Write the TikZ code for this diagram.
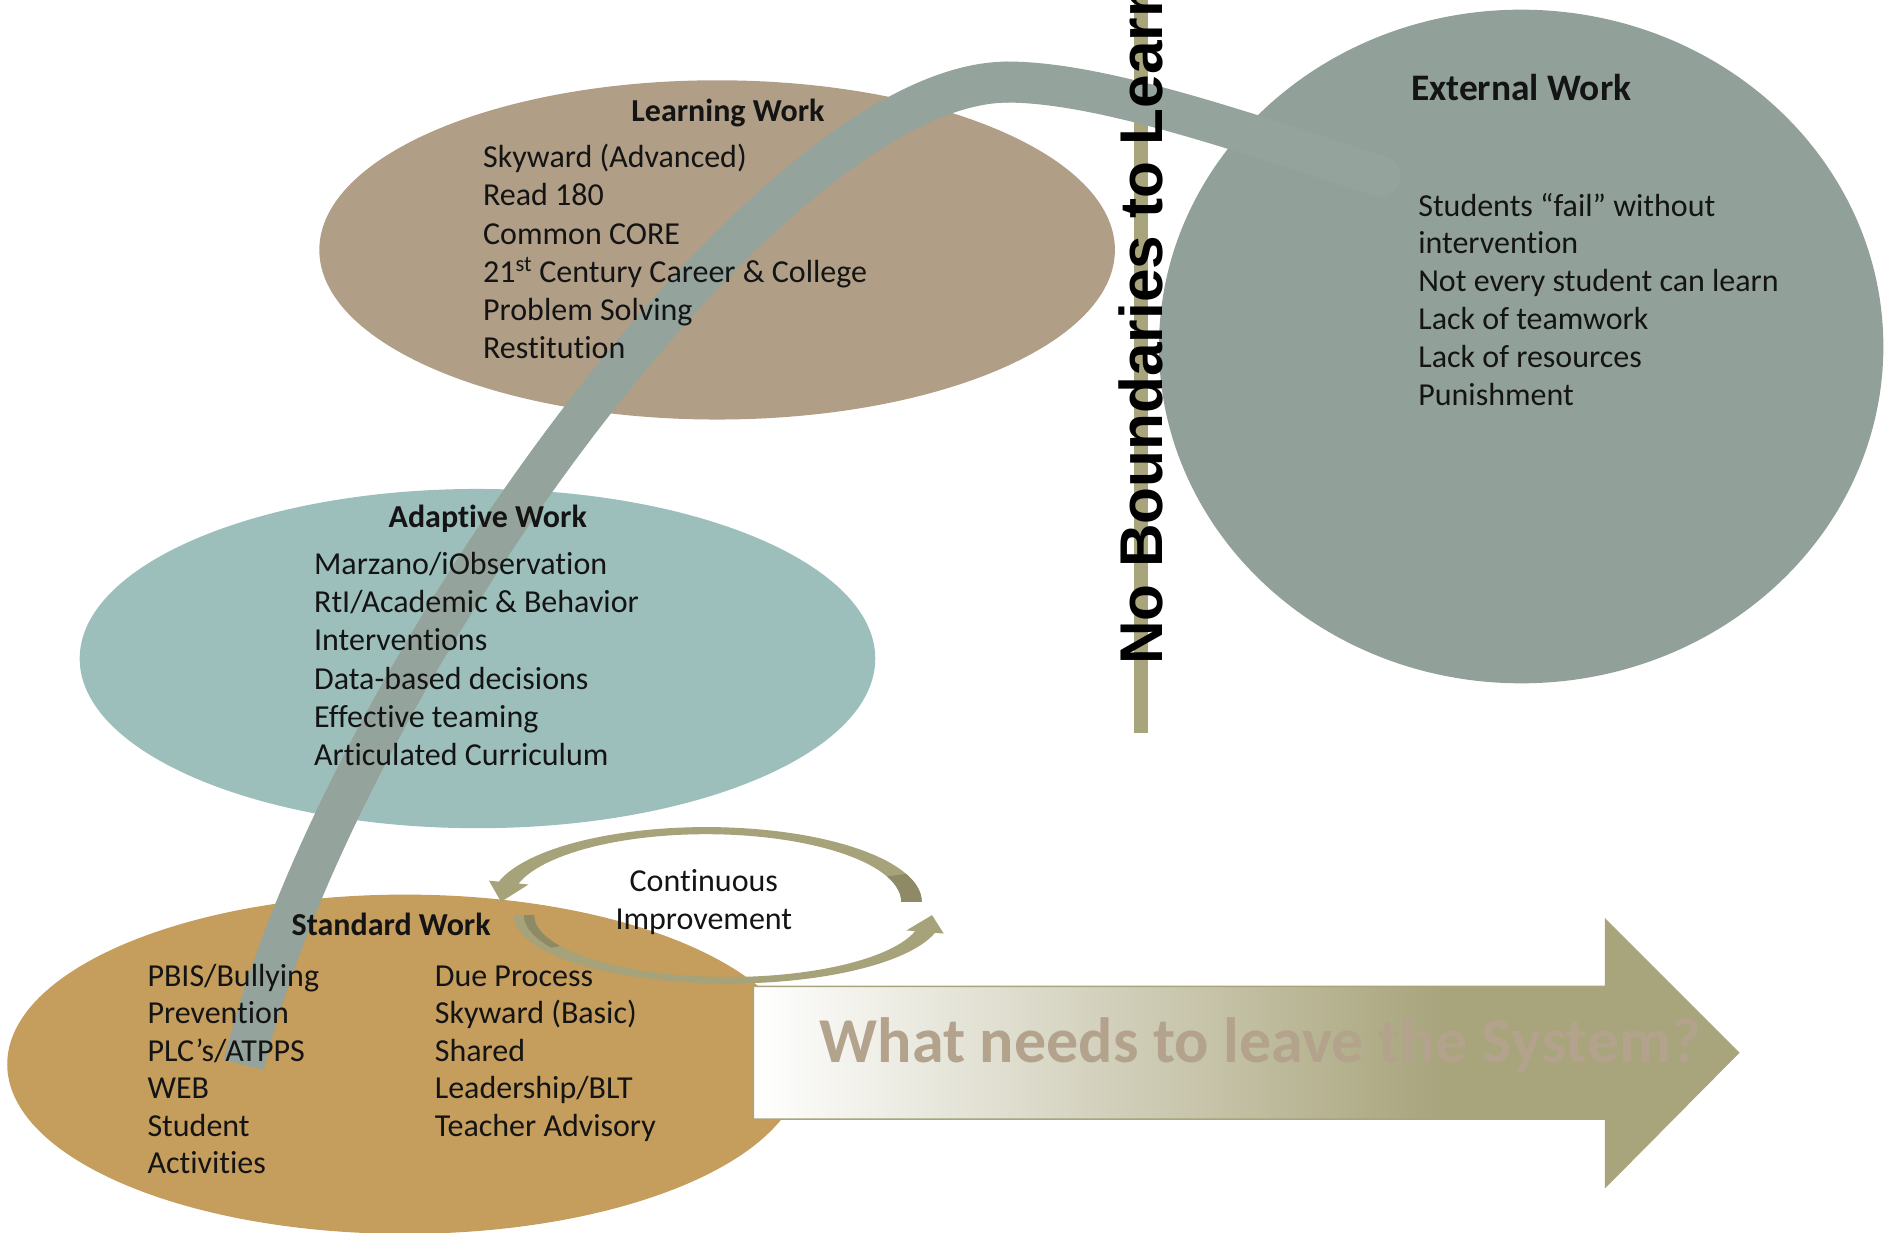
\documentclass[tikz,border=0pt]{standalone}
\usepackage{fontspec}
\setmainfont{Carlito}[Ligatures=NoCommon]
\newfontfamily\vertfont{Liberation Sans}
\usetikzlibrary{shapes.geometric}
\definecolor{learnc}{HTML}{B09E86}
\definecolor{adaptc}{HTML}{9DBFBC}
\definecolor{stdc}{HTML}{C59D5C}
\definecolor{extc}{HTML}{91A19A}
\definecolor{bandc}{HTML}{94A49D}
\definecolor{olivec}{HTML}{A8A47C}
\definecolor{ringc}{HTML}{A6A27A}
\definecolor{ringd}{HTML}{8E8A66}
\definecolor{txtc}{HTML}{141414}
\definecolor{bigtxt}{HTML}{B3A38C}
\pgfdeclarehorizontalshading{bigarrowshade}{100bp}{color(0bp)=(white); color(25bp)=(white); color(60bp)=(olivec); color(100bp)=(olivec)}
\begin{document}
\begin{tikzpicture}[x=1pt, y=-1pt,
  blob/.style={ellipse, inner sep=0pt, outer sep=0pt},
  item/.style={font=\fontsize{26.5}{31}\selectfont, text=txtc, inner sep=0pt, anchor=base west},
  ttl/.style={font=\fontsize{26.5}{31}\selectfont\bfseries, text=txtc, inner sep=0pt, anchor=base},
  band/.style={draw=bandc, line width=34pt}]
\useasboundingbox (0,0) rectangle (1568,1021);
\clip (0,0) rectangle (1568,1021);
% ellipses
\node[blob, fill=learnc, minimum width=659pt, minimum height=281pt] (learning) at (594,207) {};
\node[blob, fill=adaptc, minimum width=659pt, minimum height=281pt] (adaptive) at (395.5,545.5) {};
\node[blob, fill=stdc, minimum width=659pt, minimum height=281pt] (standard) at (335.5,881.5) {};
\node[blob, fill=extc, minimum width=600pt, minimum height=558pt] (external) at (1260,287) {};
% vertical bar
\fill[olivec] (939,0) rectangle (951,607);
% band
\coordinate (bandA) at (202,882);
\coordinate (bandB) at (835,68);
\coordinate (bandC) at (1143,146);
\draw[band] (bandA) .. controls (276,575) and (635,68) .. (bandB);
\draw[band, line cap=round] (bandB) .. controls (915,68) and (1043,114) .. (bandC);
% vertical text
\node[rotate=90, anchor=base west, inner sep=0pt, text=black, font=\vertfont\bfseries\fontsize{50}{60}\selectfont] (nbl) at (963,551) {No Boundaries to Learn};
% big arrow
\shadedraw[shading=bigarrowshade, draw=olivec, line width=1.2pt] (624,817) -- (1330,817) -- (1330,762) -- (1440,872) -- (1330,983) -- (1330,927) -- (624,927) -- cycle;
\node[font=\bfseries\fontsize{53}{60}\selectfont, text=bigtxt, anchor=base west, inner sep=0pt] (leave) at (679,880) {What needs to leave the System?};
% continuous improvement ring
\begin{scope}[shift={(585,747)}, yscale=0.347]
\fill[ringc] plot[domain=0:-164.3, samples=60] ({178.5*cos(\x)},{178.5*sin(\x)}) -- ({187*cos(-164.3)},{187*sin(-164.3)}) -- (-170,0) -- ({153*cos(-164.3)},{153*sin(-164.3)}) -- plot[domain=-164.3:0, samples=60] ({161.5*cos(\x)},{161.5*sin(\x)}) -- cycle;
\fill[ringd] plot[domain=0:-22, samples=20] ({178.5*cos(\x)},{178.5*sin(\x)}) -- plot[domain=-22:0, samples=20] ({161.5*cos(\x)},{161.5*sin(\x)}) -- cycle;
\end{scope}
\begin{scope}[shift={(603,758)}, yscale=0.3195]
\fill[ringc] plot[domain=180:15, samples=60] ({177.5*cos(\x)},{177.5*sin(\x)}) -- ({185*cos(15)},{185*sin(15)}) -- (169,0) -- ({153*cos(15)},{153*sin(15)}) -- plot[domain=15:180, samples=60] ({160.5*cos(\x)},{160.5*sin(\x)}) -- cycle;
\fill[ringd] plot[domain=180:150, samples=20] ({169*cos(\x)},{169*sin(\x)}) -- plot[domain=150:180, samples=20] ({160.5*cos(\x)},{160.5*sin(\x)}) -- cycle;
\end{scope}
\node[item, anchor=base] (ci1) at (583,738.5) {Continuous};
\node[item, anchor=base] (ci2) at (583,770) {Improvement};
% texts: learning
\node[ttl] (lwt) at (603,100.8) {Learning Work};
\foreach \t [count=\i from 0] in {Skyward (Advanced), Read 180, Common CORE, 21\textsuperscript{st} Century Career \& College, Problem Solving, Restitution}
  \node[item] (lw\i) at (400,{139+31.6*\i}) {\t};
% adaptive
\node[ttl] (awt) at (404,437) {Adaptive Work};
\foreach \t [count=\i from 0] in {Marzano/iObservation, RtI/Academic \& Behavior, Interventions, Data-based decisions, Effective teaming, Articulated Curriculum}
  \node[item] (aw\i) at (260,{476+31.6*\i}) {\t};
% standard
\node[ttl] (swt) at (324,775) {Standard Work};
\foreach \t [count=\i from 0] in {PBIS/Bullying, Prevention, PLC’s/ATPPS, WEB, Student, Activities}
  \node[item] (swl\i) at (122,{817+31*\i}) {\t};
\foreach \t [count=\i from 0] in {Due Process, Skyward (Basic), Shared, Leadership/BLT, Teacher Advisory}
  \node[item] (swr\i) at (360,{817+31*\i}) {\t};
% external
\node[ttl, font=\fontsize{31}{36}\selectfont\bfseries] (ewt) at (1260,83.4) {External Work};
\foreach \t [count=\i from 0] in {Students “fail” without, intervention, Not every student can learn, Lack of teamwork, Lack of resources, Punishment}
  \node[item] (ew\i) at (1174.6,{179+31.3*\i}) {\t};
\end{tikzpicture}
\end{document}
